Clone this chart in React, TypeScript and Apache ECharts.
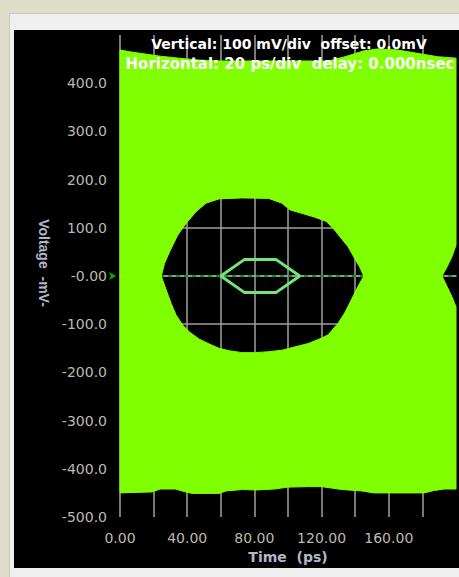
import React, { useEffect, useRef } from "react";
import * as echarts from "echarts";

// ---- data (time in ps, voltage in mV) ----
const topEdgeT = [0, 6, 12, 24, 35, 47, 60, 80, 100, 124, 134, 145, 153, 165, 177, 189, 200];
const topEdgeMv = [469, 465, 462, 456, 452, 448, 446, 446, 446, 446, 455, 467, 471, 469, 462, 455, 452];

const bottomEdgeT = [0, 19, 24, 33, 39, 43, 59, 63, 73, 81, 92, 100, 112, 120, 132, 144, 151, 181, 187, 193, 200];
const bottomEdgeMv = [-450, -448, -442, -442, -448, -451, -451, -446, -443, -444, -442, -438, -437, -437, -443, -446, -450, -450, -445, -442, -442];

const eye1UpperT = [24.6, 26.5, 29.5, 34.4, 39.3, 45.2, 51.1, 59.0, 72.7, 88.5, 96.4, 101.3, 108.2, 116.0, 122.9, 127.8, 131.7, 135.7, 139.6, 142.6, 145.1];
const eye1UpperMv = [0, 26, 50, 85, 109, 133, 151, 160, 162, 161, 151, 137, 130, 122, 113, 95, 78, 61, 37, 19, 0];

const eye1LowerT = [24.6, 27.5, 30.5, 33.4, 37.4, 41.3, 47.2, 53.1, 59.0, 64.9, 72.7, 80.6, 88.5, 96.4, 104.2, 112.1, 119.9, 123.9, 129.8, 133.7, 137.6, 141.6, 145.1];
const eye1LowerMv = [0, -29, -57, -81, -102, -116, -131, -141, -150, -155, -159, -159, -157, -154, -147, -140, -129, -122, -98, -77, -50, -22, 0];

const eye2UpperT = [191.7, 194.7, 197.6, 200];
const eye2UpperMv = [0, 19, 40, 64];
const eye2LowerT = [191.7, 194.7, 197.6, 200];
const eye2LowerMv = [0, -22, -43, -64];

const maskT = [60, 74, 93, 107, 93, 74, 60];
const maskMv = [0, 34, 34, 0, -34, -34, 0];

const xTicks = [0, 200, 20]; // min, max, interval (ps)
const yTicks = [-500, 500, 100]; // min, max, interval (mV)

const topLine1 = "Vertical: 100 mV/div  offset: 0.0mV";
const topLine2 = "Horizontal: 20 ps/div  delay: 0.000nsec";

const GREEN = "#80ff00";

const zip = (t: number[], v: number[]) => t.map((x, i) => [x, v[i]]);

export default function App() {
  const ref = useRef<HTMLDivElement>(null);
  useEffect(() => {
    if (!ref.current) return;
    const chart = echarts.init(ref.current, undefined, { renderer: "svg" });

    const topPts = zip(topEdgeT, topEdgeMv);
    const botPts = zip(bottomEdgeT, bottomEdgeMv);
    const upperPoly = [
      [0, 0],
      ...zip(eye1UpperT, eye1UpperMv),
      ...zip(eye2UpperT, eye2UpperMv),
      ...topPts.slice().reverse(),
    ];
    const lowerPoly = [
      [0, 0],
      ...zip(eye1LowerT, eye1LowerMv),
      ...zip(eye2LowerT, eye2LowerMv),
      ...botPts.slice().reverse(),
    ];

    const polySeries = (name: string, poly: number[][]) => ({
      type: "custom",
      name,
      z: 2,
      silent: true,
      data: [[0, 0]],
      encode: { x: 0, y: 1 },
      renderItem: (_p: any, api: any) => ({
        type: "polygon",
        shape: { points: poly.map((p) => api.coord(p)) },
        style: { fill: GREEN, stroke: GREEN, lineWidth: 1 },
      }),
    });

    const labelColor = "#bcb8b0";
    const nameColor = "#b0b8c8";
    const gridColor = "#a0a0a0";

    chart.setOption({
      animation: false,
      backgroundColor: "transparent",
      grid: { left: 120, right: 0, top: 35, bottom: 60, containLabel: false },
      xAxis: {
        type: "value",
        min: xTicks[0],
        max: xTicks[1],
        interval: xTicks[2],
        axisLine: { show: true, lineStyle: { color: gridColor, width: 1.5 } },
        axisTick: { show: false },
        splitLine: { show: true, showMaxLine: false, lineStyle: { color: gridColor, width: 1.5 } },
        axisLabel: {
          color: labelColor,
          fontFamily: "DejaVu Sans",
          fontSize: 14,
          margin: 14,
          formatter: (v: number) => (v % 40 === 0 && v < xTicks[1] ? v.toFixed(2) : ""),
        },
        name: "Time  (ps)",
        nameLocation: "middle",
        nameGap: 32,
        nameTextStyle: { color: nameColor, fontFamily: "DejaVu Sans", fontWeight: "bold", fontSize: 14 },
      },
      yAxis: {
        type: "value",
        min: yTicks[0],
        max: yTicks[1],
        interval: yTicks[2],
        axisLine: { show: false },
        axisTick: { show: false },
        splitLine: { show: true, showMaxLine: false, showMinLine: false, lineStyle: { color: gridColor, width: 1.5 } },
        axisLabel: {
          color: labelColor,
          fontFamily: "DejaVu Sans",
          fontSize: 14,
          margin: 13,
          formatter: (v: number) => (v >= yTicks[1] ? "" : v === 0 ? "-0.00" : v.toFixed(1)),
        },
        name: "Voltage  -mV-",
        nameLocation: "middle",
        nameRotate: -90,
        nameGap: 66,
        nameTextStyle: {
          color: nameColor,
          fontFamily: "Liberation Sans",
          fontWeight: "bold",
          fontSize: 14,
          padding: [0, 26, 0, 0],
        },
      },
      graphic: [
        {
          type: "text",
          z: 100,
          x: 289,
          y: 44,
          style: {
            text: topLine1,
            fill: "#ffffff",
            font: "bold 14px 'DejaVu Sans'",
            textAlign: "center",
            textVerticalAlign: "middle",
          },
        },
        {
          type: "text",
          z: 100,
          x: 290,
          y: 64,
          style: {
            text: topLine2,
            fill: "#ffffff",
            font: "bold 15px 'DejaVu Sans'",
            textAlign: "center",
            textVerticalAlign: "middle",
          },
        },
      ],
      series: [
        {
          type: "line",
          z: 1,
          silent: true,
          symbol: "none",
          data: [
            [xTicks[0], 0],
            [xTicks[1], 0],
          ],
          lineStyle: { color: "#00a000", width: 2, type: [4, 4] },
        },
        polySeries("upper", upperPoly),
        polySeries("lower", lowerPoly),
        {
          type: "line",
          z: 3,
          silent: true,
          symbol: "none",
          data: zip(maskT, maskMv),
          lineStyle: { color: "#74e47c", width: 3 },
        },
        {
          type: "scatter",
          z: 3,
          silent: true,
          clip: false,
          data: [[0, 0]],
          symbol: "arrow",
          symbolRotate: -90,
          symbolSize: [6, 7],
          symbolOffset: [-4, 0],
          itemStyle: { color: "#00e000" },
        },
      ],
    });
    return () => chart.dispose();
  }, []);

  return (
    <div
      style={{
        position: "fixed",
        left: 0,
        top: 0,
        width: 459,
        height: 577,
        background: "#dedec8",
        overflow: "hidden",
      }}
    >
      <div
        style={{
          position: "absolute",
          left: 9,
          top: 13,
          right: 0,
          bottom: 0,
          background: "#f0f0f0",
          borderTop: "1px solid #c8c8c8",
          borderLeft: "1px solid #c8c8c8",
        }}
      />
      <div
        style={{
          position: "absolute",
          left: 14,
          top: 30,
          width: 445,
          height: 538,
          background: "#000000",
        }}
      />
      <div ref={ref} style={{ position: "absolute", left: 0, top: 0, width: 459, height: 577 }} />
    </div>
  );
}
